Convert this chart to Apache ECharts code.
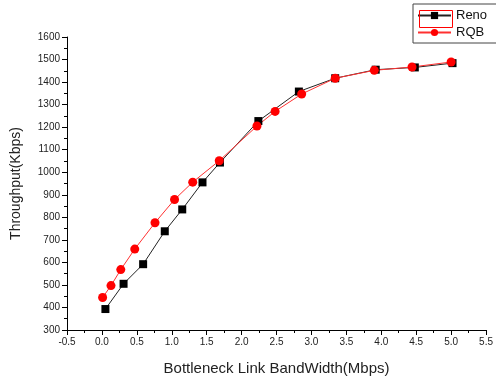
<!DOCTYPE html>
<html><head><meta charset="utf-8">
<script src="https://cdn.jsdelivr.net/npm/echarts@6/dist/echarts.min.js"></script>
<style>html,body{margin:0;padding:0;background:#fff}#c{width:496px;height:381px}</style>
</head><body><div id="c"></div>
<script>
const renoX = [0.05, 0.31, 0.59, 0.90, 1.15, 1.44, 1.69, 2.24, 2.82, 3.34, 3.92, 4.48, 5.02];
const renoY = [393, 505, 592, 738, 835, 955, 1043, 1227, 1358, 1417, 1455, 1465, 1484];
const rqbX = [0.01, 0.13, 0.27, 0.47, 0.76, 1.04, 1.30, 1.68, 2.22, 2.48, 2.86, 3.34, 3.90, 4.44, 5.00];
const rqbY = [444, 497, 568, 659, 776, 879, 956, 1051, 1205, 1270, 1347, 1417, 1452, 1467, 1489];
const xTicks = [-0.5, 5.5, 0.5];
const yTicks = [300, 1600, 100];

const chart = echarts.init(document.getElementById('c'));
const font = 'Liberation Sans, Arial, sans-serif';
function axisCommon(){
  return {
    axisLine:{show:true,onZero:false,lineStyle:{color:'#000',width:1}},
    axisTick:{show:true,length:5,lineStyle:{color:'#000'}},
    minorTick:{show:true,splitNumber:2,length:3,lineStyle:{color:'#000'}},
    splitLine:{show:false}
  };
}
chart.setOption({
  animation:false,
  grid:{left:67,right:9,top:37,bottom:50},
  xAxis:Object.assign(axisCommon(),{
    type:'value',min:xTicks[0],max:xTicks[1],interval:xTicks[2],
    name:'Bottleneck Link BandWidth(Mbps)',nameLocation:'middle',nameGap:31,
    nameTextStyle:{fontSize:15,color:'#222',fontFamily:font},
    axisLabel:{color:'#222',fontSize:10,fontFamily:font,margin:7,formatter:v=>v.toFixed(1)}
  }),
  yAxis:Object.assign(axisCommon(),{
    type:'value',min:yTicks[0],max:yTicks[1],interval:yTicks[2],
    name:'Throughput(Kbps)',nameLocation:'middle',nameGap:44,
    nameTextStyle:{fontSize:14,color:'#222',fontFamily:font},
    axisLabel:{color:'#222',fontSize:10,fontFamily:font,margin:7,formatter:v=>String(v)}
  }),
  legend:{
    left:413,top:4,orient:'vertical',itemGap:4,itemWidth:33,itemHeight:9,
    padding:[5,12,4,4],borderColor:'#444',borderWidth:1,backgroundColor:'#fff',
    textStyle:{fontSize:13,color:'#111',fontFamily:font},
    data:['Reno','RQB']
  },
  graphic:[{type:'rect',left:417,top:8,shape:{width:33,height:17},style:{fill:'none',stroke:'#f00',lineWidth:1},z:100}],
  series:[
    {name:'Reno',type:'line',data:renoX.map((x,i)=>[x,renoY[i]]),symbol:'rect',symbolSize:8,
     itemStyle:{color:'#000'},lineStyle:{color:'#222',width:1}},
    {name:'RQB',type:'line',data:rqbX.map((x,i)=>[x,rqbY[i]]),symbol:'circle',symbolSize:9,
     itemStyle:{color:'#ff0000'},lineStyle:{color:'#ff3030',width:1}}
  ]
});
</script></body></html>
